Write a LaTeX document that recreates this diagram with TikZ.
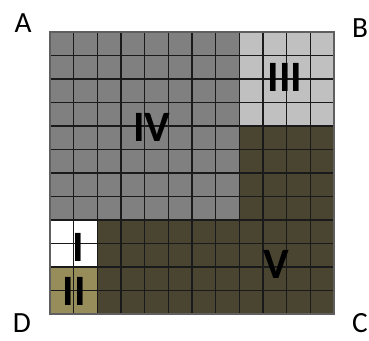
\documentclass[tikz,border=0pt]{standalone}
\usepackage{fontspec}
\setmainfont{Carlito}
\definecolor{regIV}{HTML}{808080}
\definecolor{regIII}{HTML}{C0C0C0}
\definecolor{regV}{HTML}{4A4530}
\definecolor{regII}{HTML}{978D5A}
\definecolor{gridc}{HTML}{1A1A1A}
\tikzset{
  corner/.style={inner sep=0pt, font=\fontsize{25}{25}\selectfont, text=black},
  roman/.style={inner sep=0pt, font=\bfseries\fontsize{37}{37}\selectfont, text=black},
  gridline/.style={draw=gridc, line width=1.2pt}
}
\begin{document}
\begin{tikzpicture}[x=0.03cm, y=-0.03cm]
\useasboundingbox (0,0) rectangle (369,340);
\def\cw{23.667}
\def\ch{23.5}
% region fills (columns 0..12, rows 0..12)
\fill[regIV] (50,32) rectangle ({50+8*\cw},{32+8*\ch});
\fill[regIII] ({50+8*\cw},32) rectangle (334,{32+4*\ch});
\fill[regV] ({50+8*\cw},{32+4*\ch}) rectangle (334,314);
\fill[regV] ({50+2*\cw},{32+8*\ch}) rectangle ({50+8*\cw},314);
\fill[white] (50,{32+8*\ch}) rectangle ({50+2*\cw},{32+10*\ch});
\fill[regII] (50,{32+10*\ch}) rectangle ({50+2*\cw},314);
% grid
\foreach \i in {1,...,11} {
  \draw[gridline] ({50+\i*\cw},32) -- ({50+\i*\cw},314);
  \draw[gridline] (50,{32+\i*\ch}) -- (334,{32+\i*\ch});
}
\draw[gridline, draw=gridc!70] (50,32) rectangle (334,314);
% region labels
\node[roman] (lIV) at (152,127) {IV};
\node[roman] (lIII) at (285,77) {III};
\node[roman] (lI) at (78,247) {I};
\node[roman] (lII) at (74,291) {II};
\node[roman] (lV) at (276,264) {V};
% corner labels
\node[corner] (cA) at (23,23) {A};
\node[corner] (cB) at (360,28) {B};
\node[corner] (cC) at (360,323) {C};
\node[corner] (cD) at (22,323) {D};
\end{tikzpicture}
\end{document}
